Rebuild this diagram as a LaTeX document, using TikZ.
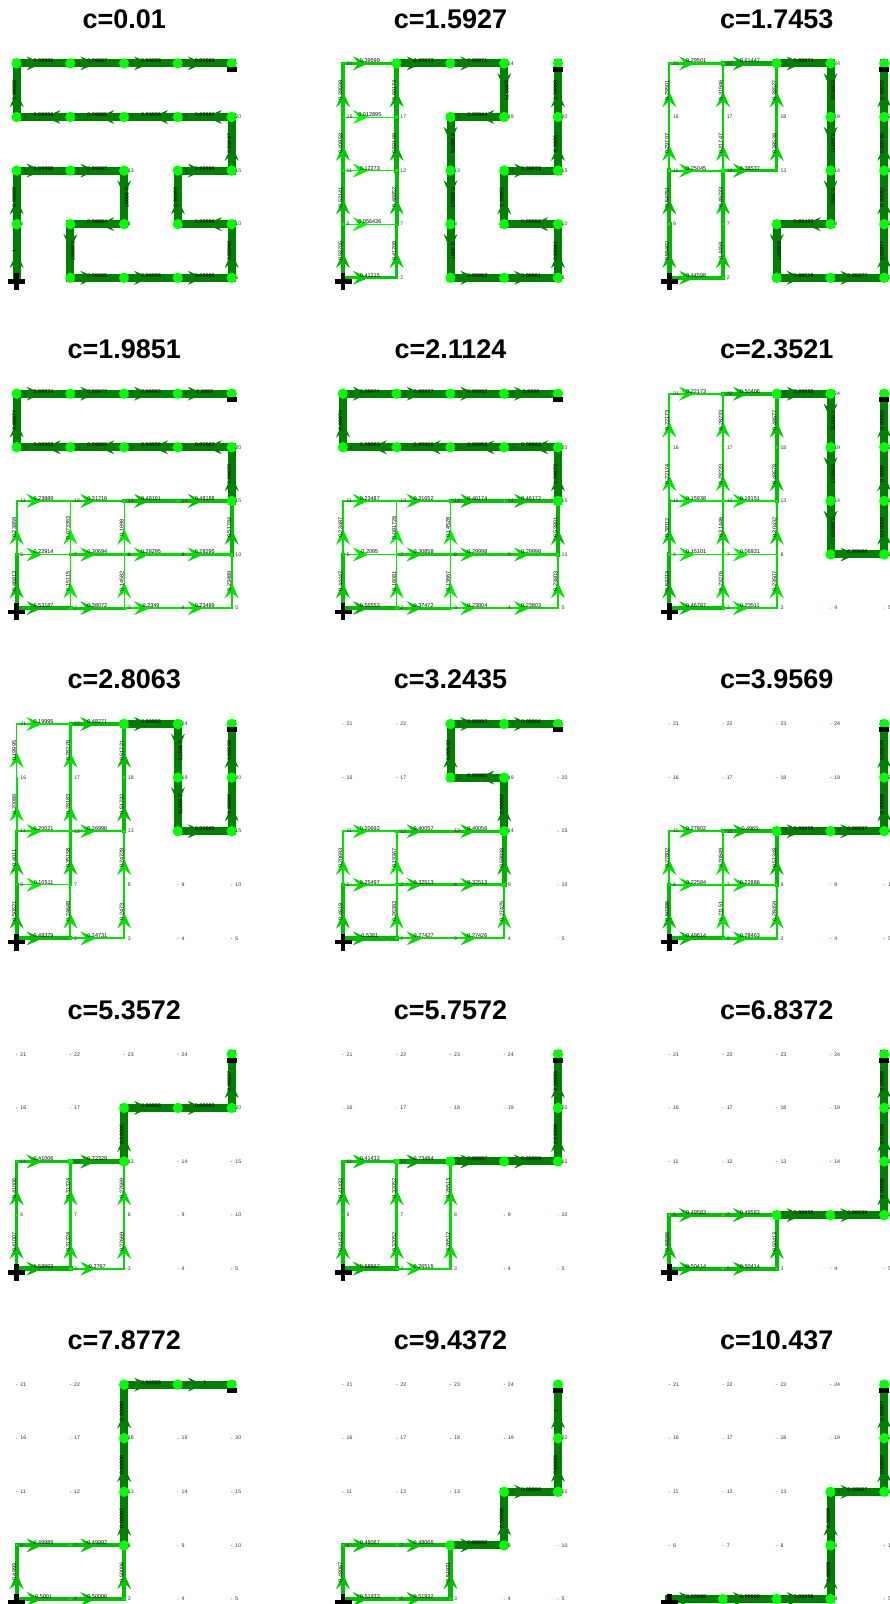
\documentclass[tikz,border=0pt]{standalone}
\usepackage{fontspec}
\setmainfont{Liberation Sans}
\definecolor{nodegreen}{RGB}{0,255,0}
\tikzset{
  titlestyle/.style={font=\fontsize{27}{31}\selectfont\bfseries, inner sep=0pt},
  flowlab/.style={font=\fontsize{5.5}{6}\selectfont, anchor=south, inner sep=0.3pt},
  numlab/.style={font=\fontsize{5.2}{6}\selectfont, anchor=west, inner sep=0pt, xshift=3.5pt, text=black!80},
  nodedot/.style={fill=nodegreen},
  markfill/.style={fill=black},
}
\newcommand\flowpanel[5]{%
  \foreach \k in {1,...,25}{%
    \pgfmathsetmacro\fpxx{16.7+326.3*#2+53.75*mod(\k-1,5)}%
    \pgfmathsetmacro\fpyy{1604-(63.4+330.3*#3+53.6*(4-floor((\k-1)/5)))}%
    \coordinate (p#1n\k) at (\fpxx,\fpyy);%
    \expandafter\xdef\csname nf\k\endcsname{0}%
  }%
  \pgfmathsetmacro\fptx{124.2+326.3*#2}%
  \pgfmathsetmacro\fpty{1604-(19+330.3*#3)}%
  \node[titlestyle] (t#1) at (\fptx,\fpty) {#4};%
  \foreach \a/\b/\v in {#5}{%
    \pgfmathsetmacro\fplw{max(0.4,8*\v)}%
    \pgfmathtruncatemacro\fpG{255-127*\v}%
    \definecolor{ec}{RGB}{0,\fpG,0}%
    \pgfmathtruncatemacro\fpdd{\b-\a}%
    \def\fpang{0}%
    \ifnum\fpdd=-1 \def\fpang{180}\fi
    \ifnum\fpdd=5 \def\fpang{90}\fi
    \ifnum\fpdd=-5 \def\fpang{-90}\fi
    \draw[line width=\fplw pt, ec, line cap=rect] (p#1n\a) -- (p#1n\b);%
    \path (p#1n\a) -- (p#1n\b) coordinate[pos=0.48] (ah);%
    \fill[ec, shift={(ah)}, rotate=\fpang] (0,0) -- (-16,7) -- (-10,0) -- (-16,-7) -- cycle;%
    \edef\fpold{\csname nf\b\endcsname}%
    \pgfmathsetmacro\fpnew{\fpold+\v}%
    \expandafter\xdef\csname nf\b\endcsname{\fpnew}%
  }%
  \foreach \k in {2,...,25}{%
    \edef\fpcf{\csname nf\k\endcsname}%
    \pgfmathsetmacro\fprad{max(0.6,5.2*\fpcf*\fpcf)}%
    \fill[nodedot] (p#1n\k) circle[radius=\fprad];%
  }%
  \fill[markfill, shift={(p#1n1)}] (-8.5,-6) rectangle (8.5,-1.5);%
  \fill[markfill, shift={(p#1n1)}] (-2.25,-12.25) rectangle (2.25,4.75);%
  \fill[markfill, shift={(p#1n25)}] (-5,-8.5) rectangle (5,-3.5);%
  \foreach \k in {2,...,24}{%
    \node[numlab] (p#1k\k) at (p#1n\k) {\k};%
  }%
  \foreach \a/\b/\v in {#5}{%
    \pgfmathtruncatemacro\fpdd{\b-\a}%
    \def\fpla{0}%
    \ifnum\fpdd=5 \def\fpla{90}\fi
    \ifnum\fpdd=-5 \def\fpla{-90}\fi
    \path (p#1n\a) -- (p#1n\b) node[flowlab, rotate=\fpla, pos=0.5] (p#1l\a x\b) {\v};%
  }%
}
\begin{document}
\begin{tikzpicture}[x=1pt,y=1pt]
\useasboundingbox (0,0) rectangle (890,1604);
\clip (0,0) rectangle (890,1604);
\fill[white] (0,0) rectangle (890,1604);

\flowpanel{1}{0}{0}{c=0.01}{1/6/1, 6/11/0.99999, 11/12/0.99998, 12/13/0.99997, 13/8/0.99997, 8/7/0.99994, 7/2/0.99997, 2/3/0.99995, 3/4/0.99996, 4/5/0.99996, 5/10/0.99996, 10/9/0.99996, 9/14/0.99996, 14/15/0.99996, 15/20/0.99997, 20/19/0.99997, 19/18/0.99996, 18/17/0.99995, 17/16/0.99996, 16/21/0.99996, 21/22/0.99996, 22/23/0.99997, 23/24/0.99999, 24/25/0.99999}

\flowpanel{2}{1}{0}{c=1.5927}{1/6/0.58705, 6/11/0.53141, 11/16/0.40958, 16/21/0.39599, 21/22/0.39599, 1/2/0.41215, 2/7/0.41208, 6/7/0.056436, 7/12/0.46852, 11/12/0.12273, 12/17/0.59109, 16/17/0.012895, 17/22/0.60174, 22/23/0.99973, 23/24/0.99971, 24/19/0.99979, 19/18/0.99944, 18/13/0.99976, 13/8/0.99919, 8/3/0.9997, 3/4/0.99963, 4/5/0.99961, 5/10/0.99961, 10/9/0.99958, 9/14/0.99958, 14/15/0.99978, 15/20/0.9996, 20/25/0.99989}

\flowpanel{3}{2}{0}{c=1.7453}{1/6/0.55402, 6/11/0.54751, 11/16/0.29707, 16/21/0.29501, 21/22/0.29501, 11/12/0.25045, 1/2/0.44598, 2/7/0.4459, 7/12/0.45233, 12/17/0.31747, 12/13/0.38537, 13/18/0.38538, 17/22/0.31946, 22/23/0.61447, 18/23/0.38527, 23/24/0.99974, 24/19/0.99969, 19/14/0.99971, 14/9/0.9997, 9/8/0.99493, 8/3/0.99977, 3/4/0.99519, 4/5/0.99977, 5/10/0.99977, 10/15/0.99981, 15/20/0.99986, 20/25/0.99992}

\flowpanel{4}{0}{1}{c=1.9851}{21/22/0.99974, 22/23/0.99977, 23/24/0.99982, 24/25/0.9999, 16/21/0.99974, 17/16/0.99963, 18/17/0.99959, 19/18/0.99958, 20/19/0.99962, 15/20/0.99972, 11/12/0.23889, 12/13/0.31216, 13/14/0.48191, 14/15/0.48188, 6/11/0.23859, 7/12/0.073363, 8/13/0.1698, 10/15/0.51784, 6/7/0.22914, 7/8/0.30694, 8/9/0.28295, 9/10/0.28295, 1/6/0.46813, 2/7/0.15115, 3/8/0.14582, 5/10/0.23489, 1/2/0.53187, 2/3/0.38072, 3/4/0.2349, 4/5/0.23489}

\flowpanel{5}{1}{1}{c=2.1124}{21/22/0.99974, 22/23/0.99977, 23/24/0.99982, 24/25/0.9999, 16/21/0.99974, 17/16/0.99963, 18/17/0.99959, 19/18/0.99958, 20/19/0.99963, 15/20/0.99973, 11/12/0.23487, 12/13/0.31652, 13/14/0.46174, 14/15/0.46172, 6/11/0.23487, 7/12/0.081728, 8/13/0.14528, 10/15/0.53801, 6/7/0.2095, 7/8/0.30858, 8/9/0.29998, 9/10/0.29998, 1/6/0.44447, 2/7/0.18081, 3/8/0.13667, 5/10/0.23803, 1/2/0.55553, 2/3/0.37472, 3/4/0.23804, 4/5/0.23803}

\flowpanel{6}{2}{1}{c=2.3521}{21/22/0.22173, 22/23/0.50406, 23/24/0.99983, 16/21/0.22173, 17/22/0.28233, 18/23/0.49577, 11/16/0.22174, 12/17/0.28233, 13/18/0.49578, 11/12/0.15938, 12/13/0.19151, 6/11/0.38112, 7/12/0.31446, 8/13/0.30432, 6/7/0.15101, 7/8/0.06931, 1/6/0.53213, 2/7/0.23276, 3/8/0.23507, 1/2/0.46787, 2/3/0.23511, 24/19/0.99975, 19/14/0.99977, 14/9/0.99979, 9/10/0.99986, 10/15/0.99989, 15/20/0.9999, 20/25/0.99994}

\flowpanel{7}{0}{2}{c=2.8063}{21/22/0.19995, 22/23/0.48271, 23/24/0.99993, 16/21/0.19995, 17/22/0.28276, 18/23/0.51721, 11/16/0.20089, 12/17/0.28183, 13/18/0.51732, 11/12/0.20021, 12/13/0.26996, 6/11/0.4011, 7/12/0.35158, 8/13/0.24728, 6/7/0.10511, 1/6/0.50621, 2/7/0.24648, 3/8/0.2473, 1/2/0.49379, 2/3/0.24731, 24/19/0.99973, 19/14/0.99976, 14/15/0.99995, 15/20/0.99996, 20/25/0.99998}

\flowpanel{8}{1}{2}{c=3.2435}{23/24/0.99993, 24/25/0.99996, 18/23/0.99992, 19/18/0.99985, 14/19/0.99992, 9/14/0.59938, 11/12/0.20692, 12/13/0.40057, 13/14/0.40056, 6/11/0.20693, 7/12/0.19367, 6/7/0.25497, 7/8/0.32513, 8/9/0.32513, 1/6/0.4619, 2/7/0.26383, 1/2/0.5381, 2/3/0.27427, 3/4/0.27426, 4/9/0.27425}

\flowpanel{9}{2}{2}{c=3.9569}{11/12/0.27802, 12/13/0.4965, 13/14/0.99995, 14/15/0.99997, 15/20/0.99998, 20/25/0.99999, 6/11/0.27802, 7/12/0.20849, 8/13/0.51348, 6/7/0.22584, 7/8/0.22886, 1/6/0.50386, 2/7/0.21151, 3/8/0.28459, 1/2/0.49614, 2/3/0.28463}

\flowpanel{10}{0}{3}{c=5.3572}{11/12/0.41006, 12/13/0.72329, 13/18/0.99995, 18/19/0.99993, 19/20/0.99993, 20/25/0.99997, 6/11/0.41006, 7/12/0.31324, 8/13/0.27669, 1/6/0.41007, 2/7/0.31324, 3/8/0.27669, 1/2/0.58993, 2/3/0.2767}

\flowpanel{11}{1}{3}{c=5.7572}{11/12/0.41432, 12/13/0.73484, 13/14/0.99997, 14/15/0.99998, 15/20/0.99998, 20/25/0.99999, 6/11/0.41432, 7/12/0.32052, 8/13/0.26513, 1/6/0.41433, 2/7/0.32052, 3/8/0.26512, 1/2/0.58567, 2/3/0.26515}

\flowpanel{12}{2}{3}{c=6.8372}{6/7/0.49583, 7/8/0.49583, 8/9/0.99995, 9/10/0.99996, 10/15/0.99996, 15/20/0.99998, 20/25/0.99999, 1/6/0.49586, 1/2/0.50414, 2/3/0.50414, 3/8/0.50413}

\flowpanel{13}{0}{4}{c=7.8772}{6/7/0.49989, 7/8/0.49992, 8/13/0.99997, 13/18/0.99998, 18/23/0.99999, 23/24/0.99999, 24/25/1, 1/6/0.4999, 1/2/0.5001, 2/3/0.50006, 3/8/0.50006}

\flowpanel{14}{1}{4}{c=9.4372}{6/7/0.48067, 7/8/0.48066, 8/9/0.99998, 9/14/0.99998, 14/15/0.99999, 15/20/0.99999, 20/25/1, 1/6/0.48067, 1/2/0.51933, 2/3/0.51932, 3/8/0.51931}

\flowpanel{15}{2}{4}{c=10.437}{1/2/0.99999, 2/3/0.99999, 3/4/0.99998, 4/9/0.99998, 9/14/0.99998, 14/15/0.99997, 15/20/0.99997, 20/25/0.99997}
\end{tikzpicture}
\end{document}
